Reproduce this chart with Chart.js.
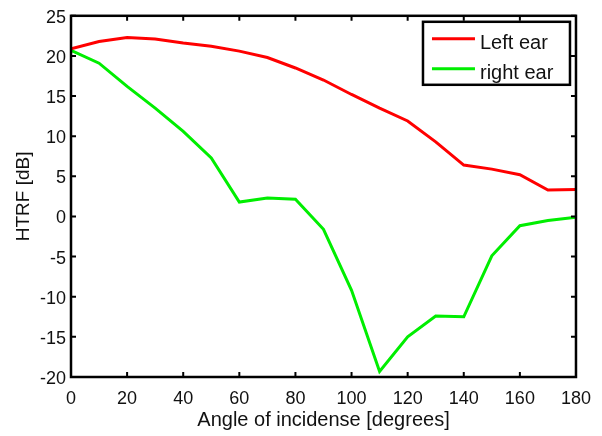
<!DOCTYPE html>
<html>
<head>
<meta charset="utf-8">
<script src="https://cdn.jsdelivr.net/npm/chart.js@4.4.0/dist/chart.umd.min.js"></script>
<style>
  html, body { margin: 0; padding: 0; background: #fff; }
  #wrap { width: 602px; height: 436px; position: relative; }
</style>
</head>
<body>
<div id="wrap"><canvas id="c" width="602" height="436"></canvas></div>
<script>
const angles = [0, 10, 20, 30, 40, 50, 60, 70, 80, 90, 100, 110, 120, 130, 140, 150, 160, 170, 180];
const leftEar = [20.9, 21.8, 22.3, 22.1, 21.6, 21.2, 20.6, 19.8, 18.5, 17.0, 15.2, 13.5, 11.9, 9.3, 6.4, 5.9, 5.2, 3.3, 3.35];
const rightEar = [20.7, 19.1, 16.2, 13.5, 10.6, 7.3, 1.8, 2.3, 2.15, -1.6, -9.2, -19.3, -15.0, -12.4, -12.5, -4.9, -1.15, -0.5, -0.1];
const seriesNames = ['Left ear', 'right ear'];
const seriesColors = ['#ff0000', '#00ee00'];
const xTicks = [0, 20, 40, 60, 80, 100, 120, 140, 160, 180];
const yTicks = [-20, -15, -10, -5, 0, 5, 10, 15, 20, 25];
const xTitle = 'Angle of incidense [degrees]';
const yTitle = 'HTRF [dB]';

const FONT = '"Liberation Sans", Arial, Helvetica, sans-serif';

const framePlugin = {
  id: 'frame',
  afterDatasetsDraw(chart) {
    const { ctx, chartArea: a, scales } = chart;
    const tl = 5;
    ctx.save();
    ctx.strokeStyle = '#000';
    ctx.lineWidth = 2;
    ctx.beginPath();
    xTicks.forEach(v => {
      const x = scales.x.getPixelForValue(v);
      ctx.moveTo(x, a.bottom); ctx.lineTo(x, a.bottom - tl);
      ctx.moveTo(x, a.top); ctx.lineTo(x, a.top + tl);
    });
    yTicks.forEach(v => {
      const y = scales.y.getPixelForValue(v);
      ctx.moveTo(a.left, y); ctx.lineTo(a.left + tl, y);
      ctx.moveTo(a.right, y); ctx.lineTo(a.right - tl, y);
    });
    ctx.stroke();
    ctx.lineWidth = 2.5;
    ctx.strokeRect(a.left, a.top, a.right - a.left, a.bottom - a.top);
    ctx.restore();
  }
};

const legendPlugin = {
  id: 'boxLegend',
  afterDraw(chart) {
    const { ctx, chartArea: a } = chart;
    const bx = a.right - 153, by = a.top + 6, bw = 147, bh = 63;
    ctx.save();
    ctx.fillStyle = '#fff';
    ctx.fillRect(bx, by, bw, bh);
    ctx.strokeStyle = '#000';
    ctx.lineWidth = 2.5;
    ctx.strokeRect(bx, by, bw, bh);
    ctx.font = '20px ' + FONT;
    ctx.textBaseline = 'alphabetic';
    ctx.textAlign = 'left';
    chart.data.datasets.forEach((ds, i) => {
      const ly = by + 17 + i * 30;
      ctx.strokeStyle = ds.borderColor;
      ctx.lineWidth = 3;
      ctx.beginPath();
      ctx.moveTo(bx + 9, ly); ctx.lineTo(bx + 52, ly);
      ctx.stroke();
      ctx.fillStyle = '#111';
      ctx.fillText(ds.label, bx + 57, ly + 10);
    });
    ctx.restore();
  }
};

new Chart(document.getElementById('c'), {
  type: 'line',
  data: {
    datasets: [
      { label: seriesNames[0], data: angles.map((x, i) => ({ x, y: leftEar[i] })), borderColor: seriesColors[0], borderWidth: 3, pointRadius: 0, tension: 0, fill: false },
      { label: seriesNames[1], data: angles.map((x, i) => ({ x, y: rightEar[i] })), borderColor: seriesColors[1], borderWidth: 3, pointRadius: 0, tension: 0, fill: false }
    ]
  },
  options: {
    responsive: false,
    animation: false,
    devicePixelRatio: 1,
    layout: { padding: { left: 0, top: 14, right: 26, bottom: 0 } },
    plugins: { legend: { display: false }, tooltip: { enabled: false } },
    scales: {
      x: {
        type: 'linear', min: 0, max: 180,
        afterBuildTicks(s) { s.ticks = xTicks.map(v => ({ value: v })); },
        afterFit(s) { s.height = 59; },
        grid: { display: false, drawTicks: false },
        border: { display: false },
        ticks: { color: '#111', font: { family: FONT, size: 18 }, padding: 11, maxRotation: 0, autoSkip: false },
        title: { display: true, text: xTitle, color: '#111', font: { family: FONT, size: 20 }, padding: { top: 0, bottom: 4 } }
      },
      y: {
        type: 'linear', min: -20, max: 25,
        afterBuildTicks(s) { s.ticks = yTicks.map(v => ({ value: v })); },
        afterFit(s) { s.width = 71; },
        grid: { display: false, drawTicks: false },
        border: { display: false },
        ticks: { color: '#111', font: { family: FONT, size: 18 }, padding: 5, labelOffset: 2, autoSkip: false },
        title: { display: true, text: yTitle, color: '#111', font: { family: FONT, size: 19 }, padding: { top: 12, bottom: 0 } }
      }
    }
  },
  plugins: [framePlugin, legendPlugin]
});
</script>
</body>
</html>
